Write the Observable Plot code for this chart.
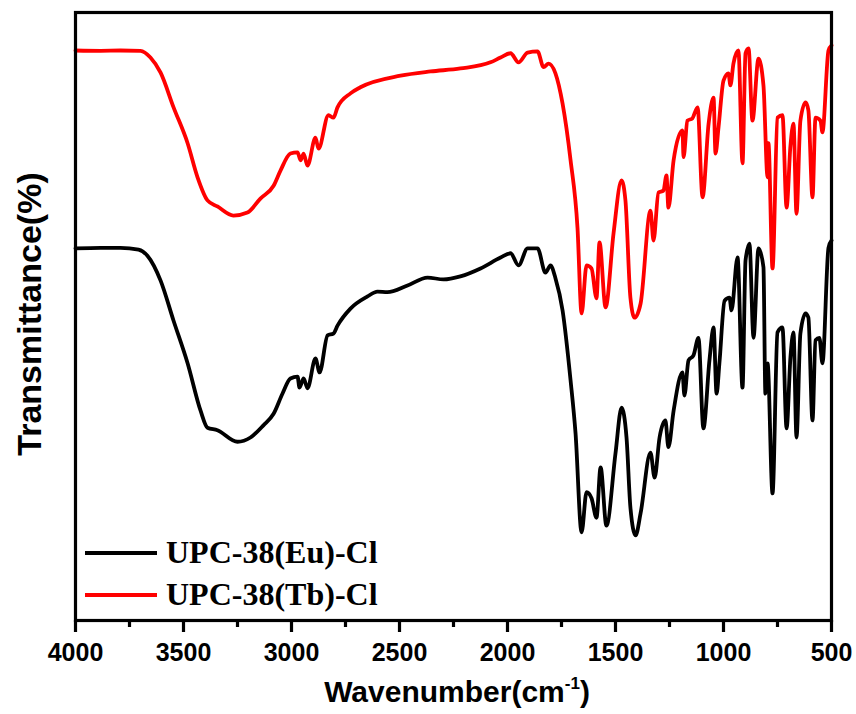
<!DOCTYPE html>
<html>
<head>
<meta charset="utf-8">
<script src="https://cdn.jsdelivr.net/npm/d3@7"></script>
<script src="https://cdn.jsdelivr.net/npm/@observablehq/plot@0.6"></script>
<style>
  html, body { margin: 0; padding: 0; background: #fff; }
  #chart svg { display: block; }
</style>
</head>
<body>
<div id="chart"></div>
<script>
// Tick values
const majorTicks = [4000, 3500, 3000, 2500, 2000, 1500, 1000, 500];
const minorTicks = [3750, 3250, 2750, 2250, 1750, 1250, 750];

// Series names
const seriesNames = ["UPC-38(Eu)-Cl", "UPC-38(Tb)-Cl"];
const seriesColors = ["#000000", "#ff0000"];

// UPC-38(Eu)-Cl (black) — wavenumber (cm^-1) and transmittance (arb. %)
const euWn = [4000,3884,3792,3708,3667,3606,3546,3481,3421,3389,3343,3250,3190,3130,3083,3042,3005,2972,2963,2944,2926,2889,2870,2833,2806,2787,2727,2648,2602,2556,2463,2370,2296,2218,2125,2032,1986,1949,1907,1861,1824,1801,1778,1745,1708,1685,1657,1634,1611,1588,1569,1542,1500,1472,1449,1431,1407,1384,1338,1319,1296,1269,1255,1231,1190,1181,1162,1139,1116,1093,1065,1046,1032,1019,995,972,963,935,912,898,880,861,838,815,806,796,773,750,727,708,690,676,662,644,620,607,588,574,556,542,514,500];
const euT  = [61.2,61.3,61.3,61.0,60.0,55.9,49.3,42.3,34.5,31.7,31.3,29.4,30.1,32.1,34.0,37.3,39.8,40.1,38.3,39.8,38.2,43.1,40.8,46.9,47.2,48.5,51.3,53.3,54.1,54.0,55.1,56.4,56.1,56.6,57.9,59.7,60.4,58.4,61.2,61.2,57.2,58.4,56.3,51.0,39.5,30.8,14.5,21.1,20.1,16.9,25.2,15.6,27.5,35.0,30.1,18.6,14.0,17.6,27.6,23.5,30.1,32.9,28.5,34.5,40.8,37.0,42.8,43.6,46.5,31.6,42.8,48.2,37.3,42.3,52.6,53.1,51.0,59.7,38.3,59.2,62.0,46.5,61.2,58.1,37.3,42.3,20.9,47.4,48.2,31.6,43.3,47.4,30.1,47.2,50.5,49.8,32.9,46.1,46.5,42.3,61.3,62.5];

// UPC-38(Tb)-Cl (red)
const tbWn = [4000,3884,3792,3699,3653,3606,3546,3481,3435,3389,3343,3269,3204,3144,3083,3051,3005,2972,2958,2944,2926,2889,2875,2829,2806,2787,2727,2681,2495,2356,2218,2079,2032,1986,1949,1907,1861,1833,1810,1778,1745,1708,1676,1657,1634,1611,1588,1574,1546,1509,1472,1454,1431,1412,1384,1338,1324,1301,1278,1264,1255,1231,1190,1185,1167,1144,1120,1097,1069,1046,1037,1023,1000,977,968,954,931,912,898,884,866,838,815,796,792,773,750,727,708,690,676,662,644,620,607,588,574,551,542,514,500];
const tbT  = [93.75,93.7,93.75,93.7,92.6,90.1,84.4,78.5,72.9,69.1,68.1,66.6,67.1,69.4,71.5,74.0,76.8,77.0,75.7,76.8,74.8,79.4,77.6,83.1,82.7,84.4,86.7,87.7,89.6,90.3,90.8,91.8,92.6,93.3,91.8,93.4,93.6,91.0,91.6,90.0,85.0,75.7,64.6,50.5,58.4,57.9,53.0,62.2,51.5,63.7,72.4,69.1,53.1,49.8,52.1,67.4,62.5,70.4,70.7,73.2,67.9,75.7,80.6,76.2,82.2,82.6,84.4,69.6,81.7,86.0,76.8,81.1,88.8,90.0,88.0,91.6,93.75,75.2,93.3,94.1,82.2,92.4,88.0,72.9,78.5,57.9,82.7,83.1,67.9,78.1,81.7,66.9,82.2,85.2,83.9,69.6,82.7,82.2,80.3,93.75,94.6];

const euData = euWn.map((w, i) => ({wn: w, t: euT[i]}));
const tbData = tbWn.map((w, i) => ({wn: w, t: tbT[i]}));

const W = 856, H = 714;
const mL = 75, mR = 25, mT = 12, mB = 94;

const chart = Plot.plot({
  width: W,
  height: H,
  marginLeft: mL,
  marginRight: mR,
  marginTop: mT,
  marginBottom: mB,
  style: {fontFamily: "'Liberation Sans', Arial, sans-serif", background: "#fff", overflow: "visible"},
  x: {domain: [4000, 500]},
  y: {domain: [0, 100], axis: null},
  marks: [
    Plot.line(euData, {x: "wn", y: "t", stroke: seriesColors[0], strokeWidth: 3.8, curve: "monotone-x", strokeLinejoin: "round"}),
    Plot.line(tbData, {x: "wn", y: "t", stroke: seriesColors[1], strokeWidth: 3.8, curve: "monotone-x", strokeLinejoin: "round"}),
    Plot.frame({stroke: "#000", strokeWidth: 3.2}),
    Plot.axisX({ticks: majorTicks, tickSize: 12, tickPadding: 11, strokeWidth: 3.2, fontSize: 25, fontWeight: "bold", fill: "#000", label: null, tickFormat: d => String(d)}),
    Plot.axisX({ticks: minorTicks, tickSize: 7, strokeWidth: 3.2, text: null, label: null})
  ]
});

document.getElementById("chart").appendChild(chart);

const svg = d3.select(chart);

// X axis title with superscript
const xt = svg.append("text")
  .attr("x", 457).attr("y", 702)
  .attr("text-anchor", "middle")
  .attr("font-family", "'Liberation Sans', Arial, sans-serif")
  .attr("font-weight", "bold")
  .attr("font-size", 30)
  .attr("fill", "#000");
xt.append("tspan").text("Wavenumber(cm");
xt.append("tspan").attr("font-size", 17).attr("dy", -13).text("-1");
xt.append("tspan").attr("dy", 13).text(")");

// Y axis title
svg.append("text")
  .attr("transform", "translate(41,314) rotate(-90)")
  .attr("text-anchor", "middle")
  .attr("font-family", "'Liberation Sans', Arial, sans-serif")
  .attr("font-weight", "bold")
  .attr("font-size", 34)
  .attr("fill", "#000")
  .text("Transmittance(%)");

// Legend
const legendRows = [{y: 553}, {y: 595}];
seriesNames.forEach((name, i) => {
  const ly = legendRows[i].y;
  svg.append("line")
    .attr("x1", 85).attr("x2", 157).attr("y1", ly).attr("y2", ly)
    .attr("stroke", seriesColors[i]).attr("stroke-width", 4);
  svg.append("text")
    .attr("x", 166).attr("y", ly + 10)
    .attr("text-anchor", "start")
    .attr("font-family", "'Liberation Serif', 'Times New Roman', serif")
    .attr("font-weight", "bold")
    .attr("font-size", 32)
    .attr("fill", "#000")
    .text(name);
});
</script>
</body>
</html>
